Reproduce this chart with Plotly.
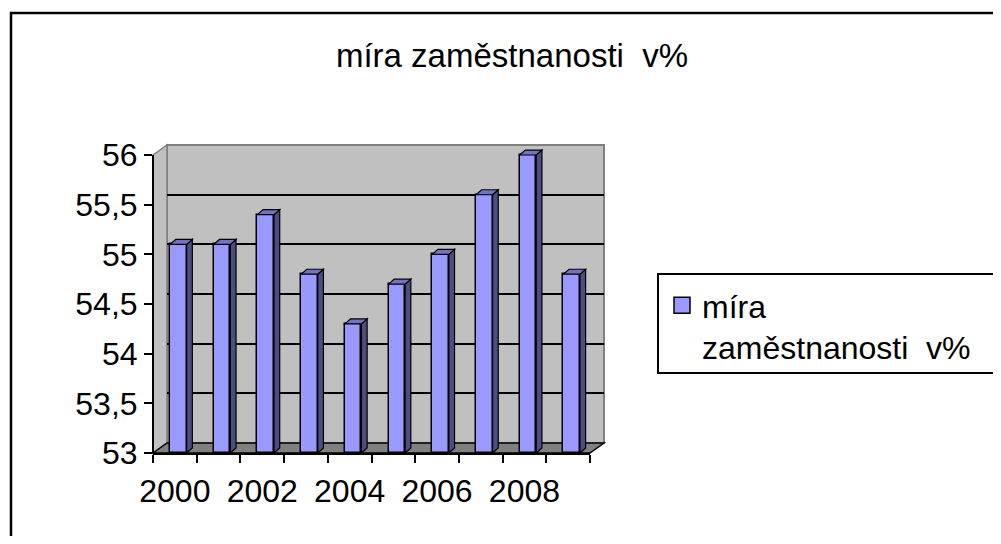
import plotly.graph_objects as go

# míra zaměstnanosti v % (Excel 3D column chart)
years = [2000, 2001, 2002, 2003, 2004, 2005, 2006, 2007, 2008, 2009]
rate = [55.1, 55.1, 55.4, 54.8, 54.3, 54.7, 55.0, 55.6, 56.0, 54.8]
label_years = [2000, 2002, 2004, 2006, 2008]
y_ticks = [53, 53.5, 54, 54.5, 55, 55.5, 56]
series_name = "míra<br>zaměstnanosti\u00a0 v%"

# page body has an 8px margin, so the figure is shrunk to fit the window
PAD = 8
W, H = 1001 - 2 * PAD, 544 - 2 * PAD
FONT = "Liberation Sans, Arial, sans-serif"
Y_MIN, Y_MAX = 53, 56
Y_HEAD = 0.1  # room above 56 so the top faces of the bars are not clipped
BAR_COLOR = "#9999FF"


def px(x):
    return (x - PAD) / W


def py(y):
    return 1 - (y - PAD) / H


# front frame (window pixels) and depth offset of the back wall
fx0, fx1, fy0, fy1 = 153, 590, 453, 155
ddx, ddy = 14, 10
bx0, bx1, by0, by1 = fx0 + ddx, fx1 + ddx, fy0 - ddy, fy1 - ddy
fy_head = fy1 - (fy0 - fy1) * Y_HEAD / (Y_MAX - Y_MIN)

# bar geometry in data units
bar_w, bar_off = 0.38, -0.11
dep_x, dep_y = 0.13, 0.05

fig = go.Figure()

# dummy trace so the back-wall subplot exists
fig.add_trace(go.Scatter(x=[years[0]], y=[Y_MIN], xaxis="x", yaxis="y",
                         mode="markers", marker=dict(opacity=0),
                         showlegend=False, hoverinfo="skip"))

fig.add_trace(go.Bar(
    x=years, y=[v - Y_MIN for v in rate], base=Y_MIN,
    xaxis="x2", yaxis="y2",
    width=bar_w, offset=bar_off,
    marker=dict(color=BAR_COLOR, line=dict(color="black", width=1.5)),
    name=series_name, showlegend=False,
    customdata=rate, hovertemplate="%{x}: %{customdata}<extra></extra>",
))

# legend entry with a square key like the original
fig.add_trace(go.Scatter(
    x=[None], y=[None], xaxis="x2", yaxis="y2", mode="markers",
    marker=dict(symbol="square", size=16, color=BAR_COLOR, line=dict(color="black", width=1.5)),
    name=series_name, hoverinfo="skip",
))

shapes = []
# back wall
shapes.append(dict(type="rect", xref="x domain", yref="y domain", x0=0, x1=1, y0=0, y1=1,
                   fillcolor="#C0C0C0", line=dict(color="#808080", width=2), layer="below"))
# left wall
shapes.append(dict(type="path", xref="paper", yref="paper",
                   path=f"M {px(fx0)},{py(fy1)} L {px(bx0)},{py(by1)} L {px(bx0)},{py(by0)} L {px(fx0)},{py(fy0)} Z",
                   fillcolor="#C0C0C0", line=dict(color="#808080", width=1.5), layer="below"))
# floor
shapes.append(dict(type="path", xref="paper", yref="paper",
                   path=f"M {px(fx0)},{py(fy0)} L {px(bx0)},{py(by0)} L {px(bx1)},{py(by0)} L {px(fx1)},{py(fy0)} Z",
                   fillcolor="#808080", line=dict(color="black", width=1.5), layer="below"))
# front value axis line, 53 to 56 only
shapes.append(dict(type="line", xref="x2 domain", yref="y2", x0=0, x1=0, y0=Y_MIN, y1=Y_MAX,
                   line=dict(color="black", width=2)))

# 3D side and top faces of the bars
for yr, v in zip(years, rate):
    xl = yr + bar_off
    xr = xl + bar_w
    shapes.append(dict(type="path", xref="x2", yref="y2",
                       path=f"M {xr},{Y_MIN} L {xr},{v} L {xr + dep_x},{v + dep_y} L {xr + dep_x},{Y_MIN + dep_y} Z",
                       fillcolor="#4D4D80", line=dict(color="black", width=1.2)))
    shapes.append(dict(type="path", xref="x2", yref="y2",
                       path=f"M {xl},{v} L {xl + dep_x},{v + dep_y} L {xr + dep_x},{v + dep_y} L {xr},{v} Z",
                       fillcolor="#7373BF", line=dict(color="black", width=1.2)))

# legend box and outer chart border (running off the right/bottom edge)
shapes.append(dict(type="rect", xref="paper", yref="paper",
                   x0=px(658), x1=px(1030), y0=py(373), y1=py(274),
                   line=dict(color="black", width=2), fillcolor="rgba(0,0,0,0)"))
shapes.append(dict(type="rect", xref="paper", yref="paper",
                   x0=px(11), x1=px(1030), y0=py(580), y1=py(13),
                   line=dict(color="black", width=2.5), fillcolor="rgba(0,0,0,0)"))

fig.update_layout(
    template="none",
    width=W, height=H,
    margin=dict(l=0, r=0, t=0, b=0, autoexpand=False),
    paper_bgcolor="white", plot_bgcolor="rgba(0,0,0,0)",
    font=dict(family=FONT, size=32, color="black"),
    separators=", ",
    bargap=0,
    shapes=shapes,
    title=dict(text="míra zaměstnanosti\u00a0 v%", x=px(512), y=py(55),
               xanchor="center", yanchor="middle", font=dict(size=33), automargin=False),
    # back wall subplot
    xaxis=dict(domain=[px(bx0), px(bx1)], anchor="y", range=[1999.5, 2009.5], automargin=False,
               showticklabels=False, showgrid=False, zeroline=False, showline=False, ticks=""),
    yaxis=dict(domain=[py(by0), py(by1)], anchor="x", range=[Y_MIN, Y_MAX], automargin=False,
               tickmode="array", tickvals=y_ticks[1:-1], showticklabels=False,
               showgrid=True, gridcolor="black", gridwidth=2, zeroline=False, showline=False, ticks=""),
    # front subplot with visible axes
    xaxis2=dict(domain=[px(fx0), px(fx1)], anchor="y2", range=[1999.5, 2009.5], automargin=False,
                tickmode="array", tickvals=label_years, ticks="",
                ticklabelstandoff=9,
                minor=dict(tickmode="array", tickvals=[y - 0.5 for y in years] + [years[-1] + 0.5],
                           ticks="outside", ticklen=8, tickwidth=2, tickcolor="black", showgrid=False),
                showgrid=False, zeroline=False, showline=True, linecolor="black", linewidth=2),
    yaxis2=dict(domain=[py(fy0), py(fy_head)], anchor="x2", range=[Y_MIN, Y_MAX + Y_HEAD],
                automargin=False,
                tickmode="array", tickvals=y_ticks, ticks="outside", ticklen=8, tickwidth=2,
                tickcolor="black", ticklabelstandoff=0,
                showgrid=False, zeroline=False, showline=False),
    legend=dict(x=px(662), y=py(278), xanchor="left", yanchor="top",
                bgcolor="rgba(0,0,0,0)", borderwidth=0, valign="top",
                font=dict(size=32)),
    showlegend=True,
)

fig.write_html("out.html")
